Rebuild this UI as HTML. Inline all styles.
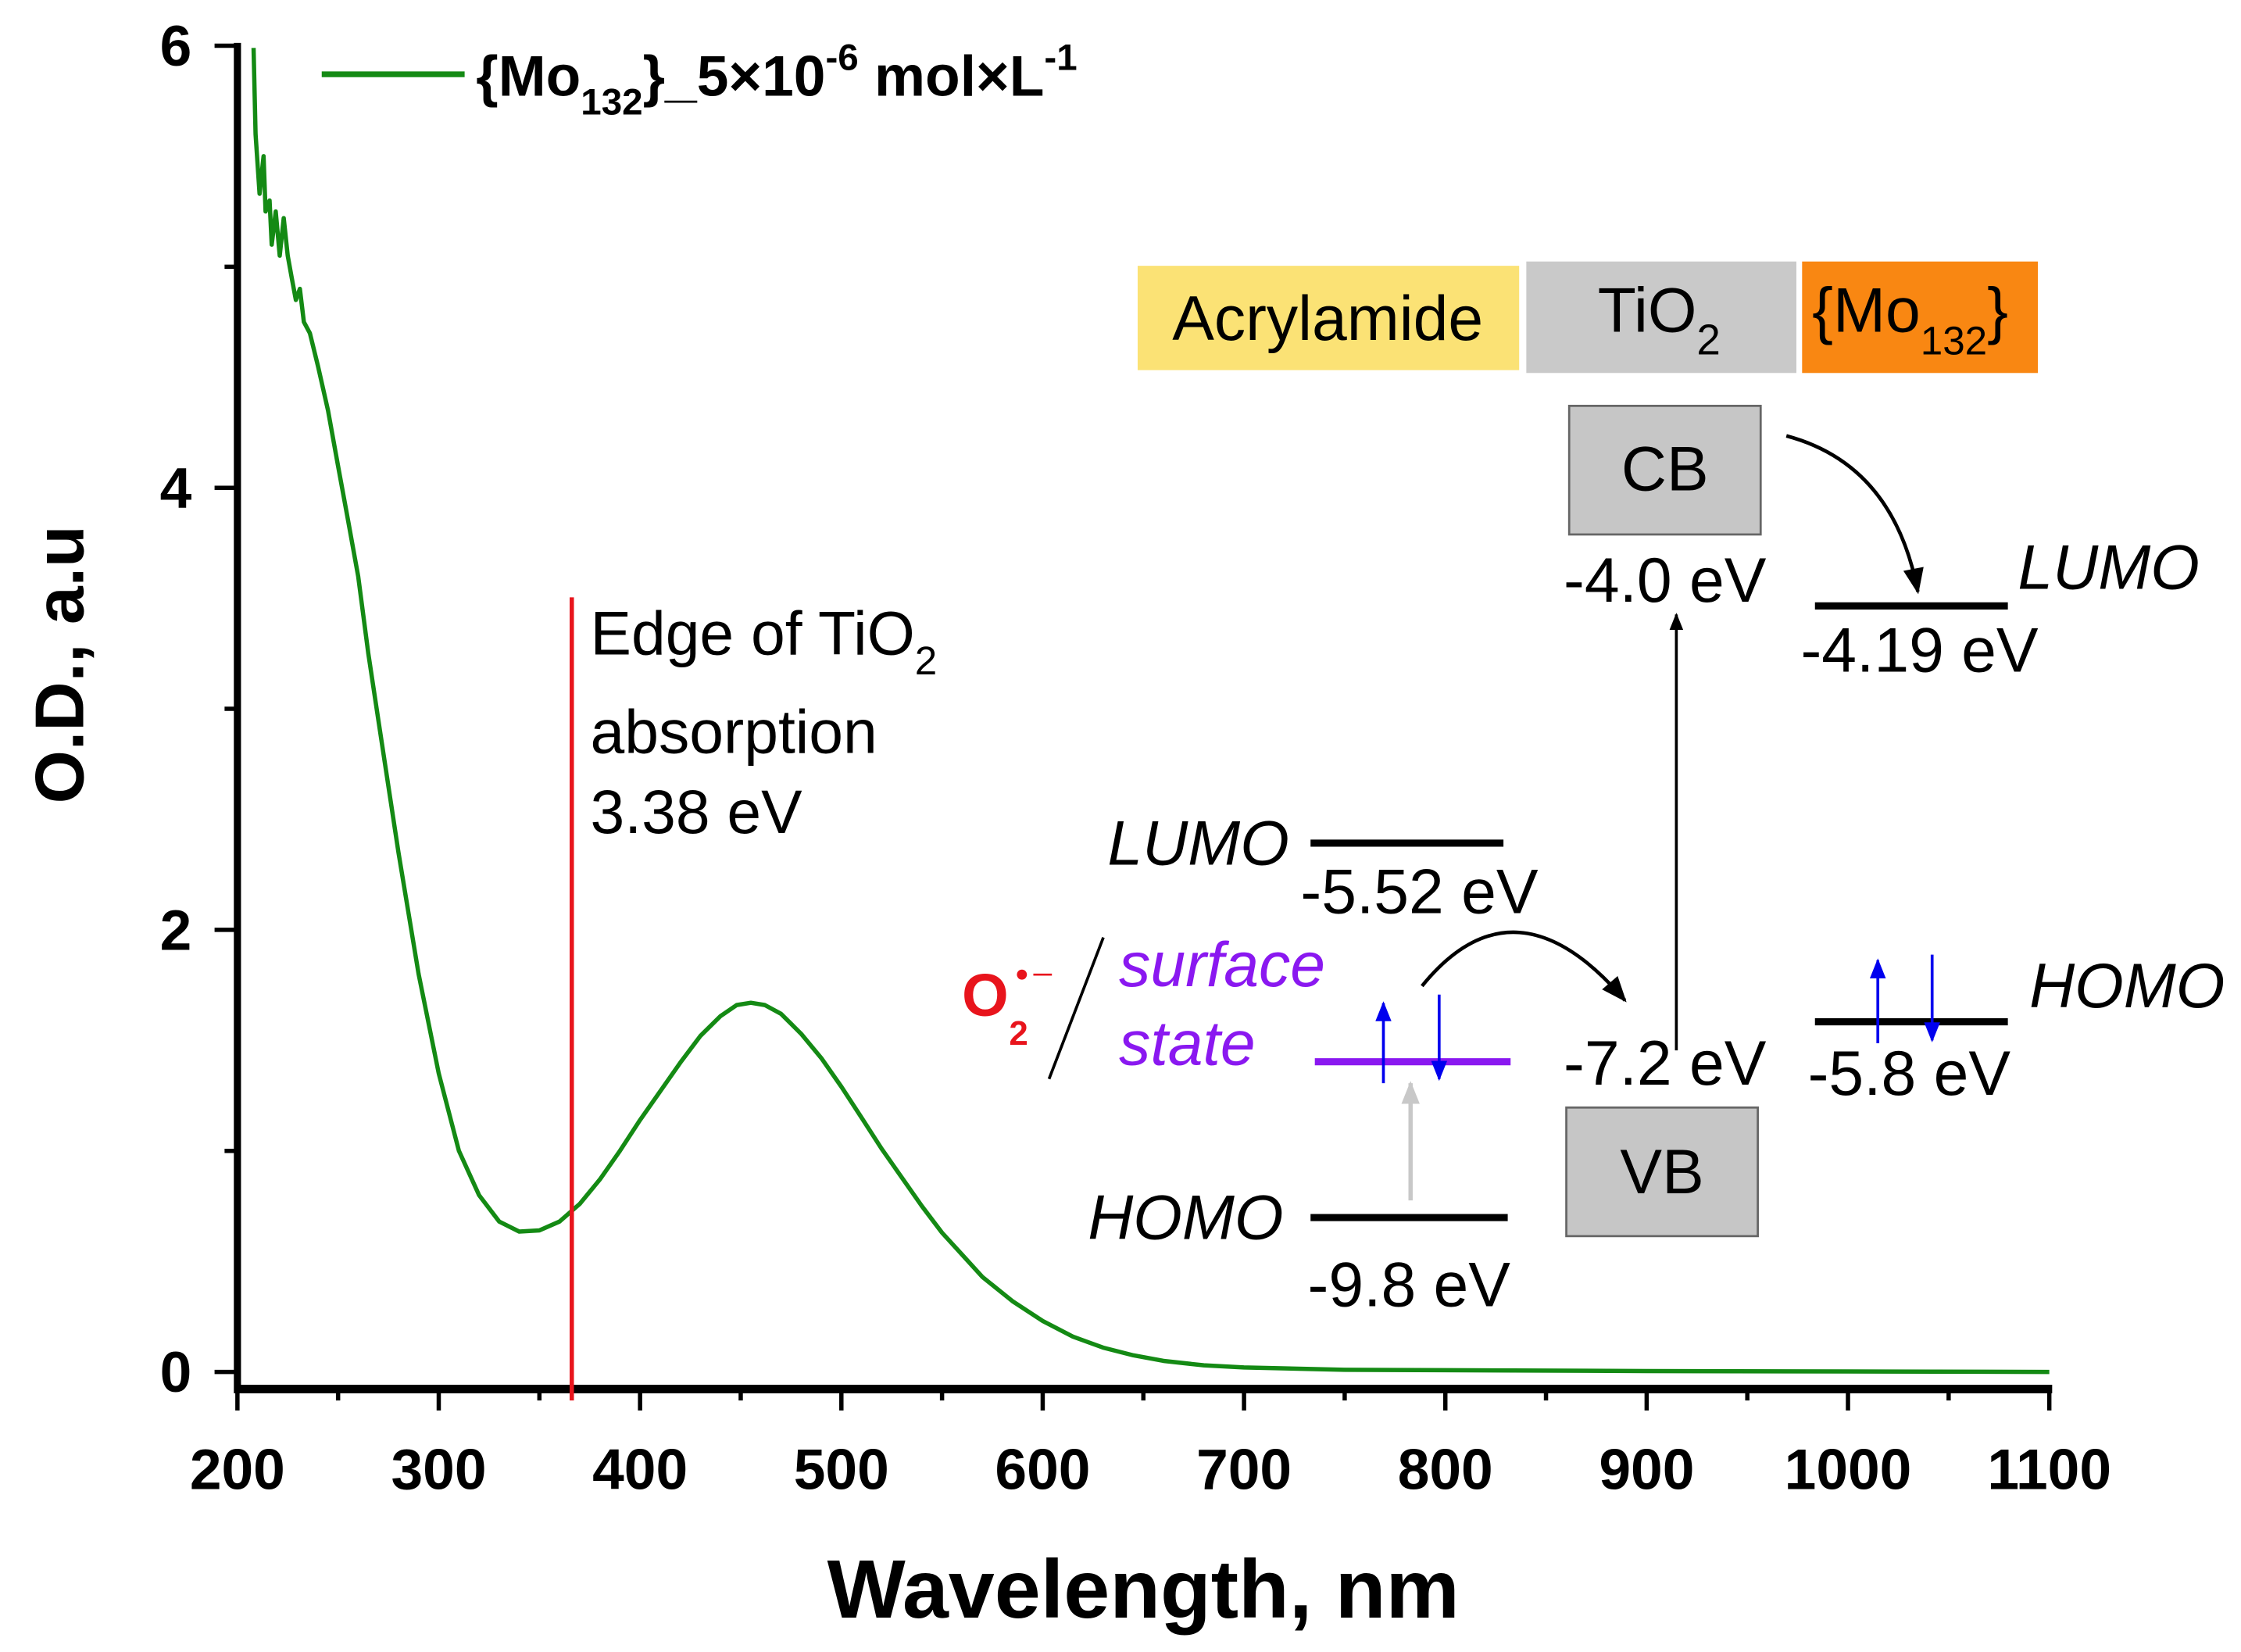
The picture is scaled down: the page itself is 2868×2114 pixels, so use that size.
<!DOCTYPE html>
<html><head><meta charset="utf-8"><style>
html,body{margin:0;padding:0;background:#fff;}
svg{display:block;font-family:"Liberation Sans",Arial,sans-serif;}
</style></head><body>
<svg id="chart" width="2868" height="2114" viewBox="0 0 1568 1156" xmlns="http://www.w3.org/2000/svg">
<defs>
<marker id="ah" viewBox="0 0 10 10" refX="9" refY="5" markerWidth="12" markerHeight="12" markerUnits="userSpaceOnUse" orient="auto"><path d="M0,1 L10,5 L0,9 Z" fill="#000"/></marker>
<marker id="ahb" viewBox="0 0 10 10" refX="9" refY="5" markerWidth="16" markerHeight="14" markerUnits="userSpaceOnUse" orient="auto"><path d="M0,1 L10,5 L0,9 Z" fill="#0000ee"/></marker>
<marker id="ahg" viewBox="0 0 10 10" refX="9" refY="5" markerWidth="18" markerHeight="16" markerUnits="userSpaceOnUse" orient="auto"><path d="M0,1 L10,5 L0,9 Z" fill="#c8c8c8"/></marker>
<marker id="ahk" viewBox="0 0 10 10" refX="9" refY="5" markerWidth="20" markerHeight="18" markerUnits="userSpaceOnUse" orient="auto"><path d="M0,1 L10,5 L0,9 Z" fill="#000"/></marker>
</defs>
<g id="axes"></g>
<g id="series"></g>

<!-- legend -->
<line x1="225" y1="52" x2="325" y2="52" stroke="#148a14" stroke-width="4"/>
<text x="333" y="67" font-size="40" font-weight="bold">{Mo<tspan font-size="26" dy="13">132</tspan><tspan dy="-13">}_5×10</tspan><tspan font-size="26" dy="-18">-6</tspan><tspan dy="18"> mol×L</tspan><tspan font-size="26" dy="-18">-1</tspan></text>

<!-- TiO2 edge -->
<line x1="400" y1="418" x2="400" y2="980" stroke="#e8141c" stroke-width="3"/>
<g font-size="43">
<text x="413" y="458">Edge of TiO<tspan font-size="28" dy="14">2</tspan></text>
<text x="413" y="527">absorption</text>
<text x="413" y="583">3.38 eV</text>
</g>

<!-- header boxes -->
<rect x="796" y="186" width="267" height="73" fill="#fbe275"/>
<text x="929" y="238" font-size="44" text-anchor="middle">Acrylamide</text>
<rect x="1068" y="183" width="189" height="78" fill="#c9c9c9"/>
<text x="1118" y="232" font-size="44">TiO<tspan font-size="30" dy="16">2</tspan></text>
<rect x="1261" y="183" width="165" height="78" fill="#f98712"/>
<text x="1268" y="232" font-size="44">{Mo<tspan font-size="28" dy="16">132</tspan><tspan dy="-16">}</tspan></text>

<!-- CB / VB -->
<rect x="1098" y="284" width="134" height="90" fill="#c6c6c6" stroke="#666" stroke-width="1.5"/>
<text x="1165" y="343" font-size="44" text-anchor="middle">CB</text>
<text x="1165" y="421" font-size="44" text-anchor="middle">-4.0 eV</text>
<rect x="1096" y="775" width="134" height="90" fill="#c6c6c6" stroke="#666" stroke-width="1.5"/>
<text x="1163" y="835" font-size="44" text-anchor="middle">VB</text>
<text x="1165" y="759" font-size="44" text-anchor="middle">-7.2 eV</text>
<line x1="1173" y1="735" x2="1173" y2="430" stroke="#000" stroke-width="2" marker-end="url(#ah)"/>
<path d="M1250,305 Q1325,325 1342,414" fill="none" stroke="#000" stroke-width="2.5" marker-end="url(#ahk)"/>

<!-- Mo132 levels -->
<line x1="1270" y1="424" x2="1405" y2="424" stroke="#000" stroke-width="5"/>
<text x="1412" y="412" font-size="44" font-style="italic">LUMO</text>
<text x="1260" y="470" font-size="44">-4.19 eV</text>
<line x1="1270" y1="715" x2="1405" y2="715" stroke="#000" stroke-width="5"/>
<text x="1420" y="705" font-size="44" font-style="italic">HOMO</text>
<text x="1265" y="766" font-size="44">-5.8 eV</text>
<line x1="1314" y1="730" x2="1314" y2="672" stroke="#0000ee" stroke-width="2" marker-end="url(#ahb)"/>
<line x1="1352" y1="668" x2="1352" y2="728" stroke="#0000ee" stroke-width="2" marker-end="url(#ahb)"/>

<!-- Acrylamide levels -->
<line x1="917" y1="590" x2="1052" y2="590" stroke="#000" stroke-width="5"/>
<text x="902" y="605" font-size="44" font-style="italic" text-anchor="end">LUMO</text>
<text x="910" y="639" font-size="44">-5.52 eV</text>
<line x1="917" y1="852" x2="1055" y2="852" stroke="#000" stroke-width="5"/>
<text x="898" y="867" font-size="44" font-style="italic" text-anchor="end">HOMO</text>
<text x="915" y="914" font-size="44">-9.8 eV</text>
<line x1="920" y1="743" x2="1057" y2="743" stroke="#8a18f0" stroke-width="5"/>
<line x1="968" y1="758" x2="968" y2="702" stroke="#0000ee" stroke-width="2" marker-end="url(#ahb)"/>
<line x1="1007" y1="696" x2="1007" y2="755" stroke="#0000ee" stroke-width="2" marker-end="url(#ahb)"/>
<line x1="987" y1="840" x2="987" y2="758" stroke="#c8c8c8" stroke-width="3" marker-end="url(#ahg)"/>
<path d="M995,690 Q1060,610 1137,700" fill="none" stroke="#000" stroke-width="2.5" marker-end="url(#ahk)"/>
<text x="783" y="690" font-size="44" font-style="italic" fill="#8a18f0">surface</text>
<text x="783" y="745" font-size="44" font-style="italic" fill="#8a18f0">state</text>
<line x1="772" y1="656" x2="734" y2="755" stroke="#000" stroke-width="2"/>
<g fill="#e8141c" font-weight="bold">
<text x="673" y="711" font-size="42">O</text>
<text x="706" y="731" font-size="24">2</text>
<circle cx="715" cy="682" r="3.5"/>
<line x1="723" y1="682" x2="736" y2="682" stroke="#e8141c" stroke-width="1.5"/>
</g>

<text x="800" y="1132" font-size="58" font-weight="bold" text-anchor="middle">Wavelength, nm</text>
<text transform="translate(58,465) rotate(-90)" font-size="48" font-weight="bold" text-anchor="middle">O.D., a.u</text>
</svg>
<script>
const wavelengths=[208,209,211,213,214,216,217,219,221,223,225,227,229,231,233,236,240,245,250,255,260,265,270,280,290,300,310,320,330,340,350,360,370,380,390,400,410,420,430,440,448,455,462,470,480,490,500,510,520,530,540,550,560,570,585,600,615,630,645,660,680,700,750,800,900,1000,1100];
const absorbance=[5.99,5.6,5.33,5.5,5.25,5.3,5.1,5.25,5.05,5.22,5.05,4.95,4.85,4.9,4.75,4.7,4.55,4.35,4.1,3.85,3.6,3.25,2.95,2.35,1.8,1.35,1.0,0.8,0.68,0.635,0.64,0.68,0.76,0.87,1.0,1.14,1.27,1.4,1.52,1.61,1.66,1.67,1.66,1.62,1.53,1.42,1.29,1.15,1.01,0.88,0.75,0.63,0.53,0.43,0.32,0.23,0.16,0.11,0.075,0.05,0.03,0.02,0.01,0.008,0.004,0.002,0.0];
const xTicks=[200,300,400,500,600,700,800,900,1000,1100];
const xMinor=[250,350,450,550,650,750,850,950,1050];
const yTicks=[0,2,4,6];
const yMinor=[1,3,5];
const NS="http://www.w3.org/2000/svg";
function xs(v){return 166+(v-200)*(1434-166)/900;}
function ys(v){return 960-v*(960-32)/6;}
function mk(tag,attrs,parent,txt){const e=document.createElementNS(NS,tag);for(const k in attrs)e.setAttribute(k,attrs[k]);if(txt!==undefined)e.textContent=txt;parent.appendChild(e);return e;}
const ax=document.getElementById('axes');
let e;
e=mk('line',{x1:166,y1:30,x2:166,y2:975,stroke:'#000','stroke-width':5},ax);


e=mk('line',{x1:164,y1:972,x2:1436,y2:972,stroke:'#000','stroke-width':6},ax);


xTicks.forEach(t=>{
 const x=xs(t);
 mk('line',{x1:x,y1:972,x2:x,y2:987,stroke:'#000','stroke-width':3},ax);
 e=mk('text',{x:x,y:1042,'font-size':40,'font-weight':'bold','text-anchor':'middle'},ax,String(t));
 
 
});
xMinor.forEach(t=>{const x=xs(t);mk('line',{x1:x,y1:972,x2:x,y2:980,stroke:'#000','stroke-width':3},ax);});
yTicks.forEach(t=>{
 const y=ys(t);
 mk('line',{x1:150,y1:y,x2:166,y2:y,stroke:'#000','stroke-width':3},ax);
 e=mk('text',{x:134,y:y+14,'font-size':40,'font-weight':'bold','text-anchor':'end'},ax,String(t));
 
 
});
yMinor.forEach(t=>{const y=ys(t);mk('line',{x1:157,y1:y,x2:166,y2:y,stroke:'#000','stroke-width':3},ax);});
const pts=wavelengths.map((w,i)=>xs(w).toFixed(1)+','+ys(absorbance[i]).toFixed(1)).join(' ');
e=mk('polyline',{points:pts,fill:'none',stroke:'#148a14','stroke-width':3,'stroke-linejoin':'round'},document.getElementById('series'));


</script>
</body></html>
